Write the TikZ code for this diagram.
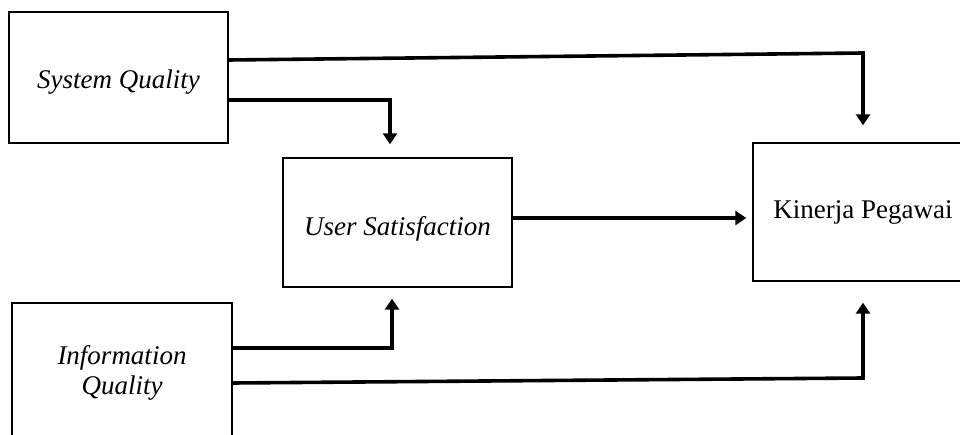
\documentclass[tikz,border=0pt]{standalone}
\usepackage{fontspec}
\setmainfont{Liberation Serif}
\usetikzlibrary{arrows.meta, positioning}

\begin{document}
\begin{tikzpicture}[x=1pt, y=-1pt, >={Triangle[width=14pt,length=11pt]},
    box/.style={draw, line width=1.4pt, inner sep=0pt, align=center,
        font=\fontsize{27}{30}\selectfont},
    link/.style={->, line width=3.6pt}]
    \useasboundingbox (0,0) rectangle (960,435);
    \clip (0,0) rectangle (960,435);

    % boxes
    \node[box, minimum width=219pt, minimum height=131pt, text height=23pt, text depth=0pt] (sq) at (118.5,77.5) {\itshape System Quality};
    \node[box, minimum width=229pt, minimum height=129pt, text height=27pt, text depth=0pt] (us) at (397.5,222.5) {\itshape User Satisfaction};
    \node[box, minimum width=220pt, minimum height=138pt] (kp) at (863,212) {Kinerja Pegawai};
    \node[box, minimum width=220pt, minimum height=140pt] (iq) at (122,373) {\itshape Information\\ \itshape Quality};

    % arrow ends short of the boxes
    \coordinate (kptop) at ([yshift=17pt]kp.north);
    \coordinate (kpbot) at ([yshift=-21pt]kp.south);
    \coordinate (ustop) at ([xshift=-7.5pt, yshift=13pt]us.north);
    \coordinate (usbot) at ([xshift=-5.5pt, yshift=-11pt]us.south);

    \draw[link] ([yshift=17.5pt]sq.east) -- (kptop |- 0,53) -- (kptop);
    \draw[link] ([yshift=-22.5pt]sq.east) -| (ustop);
    \draw[link, shorten >=6pt] ([yshift=4.5pt]us.east) -- (kp.west |- 0,218);
    \draw[link] ([yshift=25pt]iq.east) -| (usbot);
    \draw[link] ([yshift=-10pt]iq.east) -- (kpbot |- 0,378) -- (kpbot);
\end{tikzpicture}
\end{document}
